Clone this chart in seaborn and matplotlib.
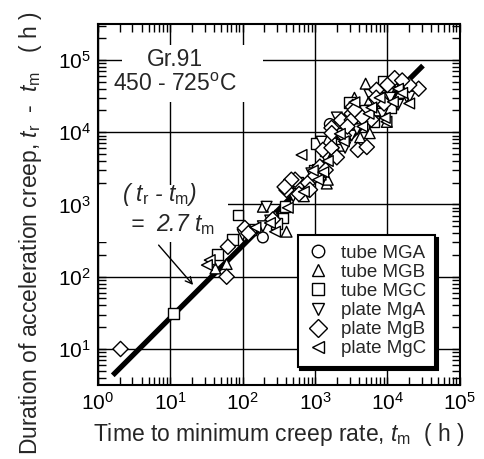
import numpy as np
import pandas as pd
import matplotlib
matplotlib.use("Agg")
import matplotlib.pyplot as plt
import seaborn as sns
from matplotlib.lines import Line2D
from matplotlib.patches import Rectangle
from matplotlib.ticker import LogLocator, NullFormatter

# ---------------- data ----------------
series_names = ["tube MGA", "tube MGB", "tube MGC", "plate MgA", "plate MgB", "plate MgC"]
series_markers = ["o", "^", "s", "v", "D", "<"]

mga_tm = [190, 1600, 1850]
mga_dt = [350, 13000, 9800]

mgb_tm = [60, 42, 190, 404, 1450, 1500, 5000, 5700, 3000, 5700, 9800, 12000, 280, 900,
          2200, 7500, 15000, 3500, 700, 1200, 2700, 8000, 4200]
mgb_dt = [150, 130, 930, 420, 1950, 2200, 47000, 28000, 11300, 9700, 13900, 50000, 700, 2500,
          6500, 20000, 35000, 30000, 1300, 2600, 16000, 42000, 8500]

mgc_tm = [11, 86, 73, 45, 383, 360, 296, 1050, 2300, 2350, 16900, 8700, 994, 5000, 130,
          700, 4000, 11000, 580, 3000, 1400, 6500]
mgc_dt = [31, 716, 330, 205, 933, 650, 550, 7000, 8200, 9700, 48200, 50000, 3000, 20000, 450,
          1700, 16000, 22000, 2000, 26000, 5600, 14000]

mga2_tm = [214, 190, 1230, 18500, 10800, 5660, 890, 2600, 4200, 760, 20400, 100, 240, 1400,
           3200, 8500, 14000, 6500, 500, 2000, 1100, 1800, 3800, 11000]
mga2_dt = [930, 500, 7400, 30800, 36100, 32900, 2700, 6100, 13500, 1860, 31200, 380, 600, 4500,
           9000, 18000, 24000, 26000, 1300, 16000, 3000, 5200, 11000, 30000]

mgb2_tm = [2.05, 60, 62.5, 107, 404, 530, 470, 380, 1165, 1690, 1280, 1690, 1700, 2300, 3200,
           3330, 3220, 3900, 5190, 12600, 7070, 27000, 3550, 120, 260, 800, 2000, 6000, 9000,
           20000, 850, 16000, 600, 1000, 1400, 2500, 4500, 7000, 10000, 2800]
mgb2_dt = [10, 100, 260, 473, 1585, 2200, 2200, 1750, 3340, 11500, 5690, 6100, 9700, 14700, 18000,
           22400, 14800, 5700, 6250, 56000, 38600, 40000, 20400, 400, 620, 2000, 4500, 15000, 25000,
           45000, 1600, 52000, 1400, 2500, 3000, 9000, 16000, 30000, 45000, 12000]

mgc2_tm = [650, 9700, 35, 32, 238, 930, 11900, 7800, 9200, 280, 150, 700, 1500, 2500, 4500,
           14000, 20000, 3500, 420, 1100, 5500, 1300, 2200, 6000, 16000]
mgc2_dt = [4850, 14000, 170, 145, 555, 2950, 26300, 30000, 15800, 420, 480, 1500, 4000, 7500, 12000,
           40000, 25000, 26000, 900, 2200, 18000, 2800, 9500, 22000, 35000]

fit_tm = [1.6, 31000]
fit_coef = 2.7

# ---------------- build frame ----------------
all_tm = [mga_tm, mgb_tm, mgc_tm, mga2_tm, mgb2_tm, mgc2_tm]
all_dt = [mga_dt, mgb_dt, mgc_dt, mga2_dt, mgb2_dt, mgc2_dt]
rows = []
for name, xs, ys in zip(series_names, all_tm, all_dt):
    for a, b in zip(xs, ys):
        rows.append({"series": name, "tm": a, "dt": b})
df = pd.DataFrame(rows)
fit_df = pd.DataFrame({"tm": fit_tm, "dt": [fit_coef * v for v in fit_tm]})

# ---------------- style ----------------
sns.set_style("ticks")
plt.rcParams["font.family"] = ["Liberation Sans", "DejaVu Sans"]
plt.rcParams["mathtext.fontset"] = "custom"
plt.rcParams["mathtext.rm"] = "Liberation Sans"
plt.rcParams["mathtext.it"] = "Liberation Sans:italic"
plt.rcParams["mathtext.bf"] = "Liberation Sans:bold"

fig = plt.figure(figsize=(4.85, 4.59), dpi=100)
ax = fig.add_axes([0.202, 0.161, 0.746, 0.787])
ax.set_xscale("log")
ax.set_yscale("log")
ax.set_xlim(1, 1e5)
ax.set_ylim(10 ** 0.5, 10 ** 5.5)

ax.set_axisbelow(True)
ax.grid(True, which="major", color="black", linewidth=1.0)

# white boxes hiding grid behind annotations
ax.add_patch(Rectangle((0.066, 0.784), 0.39, 0.158, transform=ax.transAxes,
                       facecolor="white", edgecolor="none", zorder=1))
ax.add_patch(Rectangle((0.0, 0.396), 0.359, 0.158, transform=ax.transAxes,
                       facecolor="white", edgecolor="none", zorder=1))

sns.lineplot(data=fit_df, x="tm", y="dt", ax=ax, color="black", linewidth=3.8,
             zorder=2, solid_capstyle="butt")

sns.scatterplot(data=df, x="tm", y="dt", style="series", style_order=series_names,
                markers=dict(zip(series_names, series_markers)), color="white",
                edgecolor="black", linewidth=1.0, s=60, legend=False, ax=ax, zorder=4)

# ticks
ax.xaxis.set_major_locator(LogLocator(base=10, numticks=10))
ax.yaxis.set_major_locator(LogLocator(base=10, numticks=10))
ax.xaxis.set_minor_locator(LogLocator(base=10, subs=np.arange(2, 10), numticks=10))
ax.yaxis.set_minor_locator(LogLocator(base=10, subs=np.arange(2, 10), numticks=10))
ax.xaxis.set_minor_formatter(NullFormatter())
ax.yaxis.set_minor_formatter(NullFormatter())
ax.tick_params(which="both", direction="in", top=True, right=True, colors="black")
ax.tick_params(which="major", length=6, width=1.0, labelsize=15, pad=5)
ax.tick_params(which="minor", length=5.5, width=1.0)
for sp in ax.spines.values():
    sp.set_linewidth(1.5)
    sp.set_color("black")

ax.set_xlabel("Time to minimum creep rate, $t_{\\rm m}$  ( h )", fontsize=16.5, labelpad=5)
ax.set_ylabel("Duration of acceleration creep, $t_{\\rm r}$  -  $t_{\\rm m}$   ( h )",
              fontsize=16.5)
ax.yaxis.set_label_coords(-0.15, 0.42)

# annotations
ax.text(0.213, 0.867, "Gr.91\n450 - 725$^{\\rm o}$C", transform=ax.transAxes,
        ha="center", va="center", fontsize=16.5, linespacing=1.1, zorder=3)
ax.text(0.17, 0.528, "( $t_{\\rm r}$ - $t_{\\rm m}$)", transform=ax.transAxes,
        ha="center", va="center", fontsize=16.5, style="italic", zorder=3)
ax.text(0.205, 0.445, "=  2.7 $t_{\\rm m}$", transform=ax.transAxes,
        ha="center", va="center", fontsize=16.5, style="italic", zorder=3)
ax.annotate("", xy=(21.9, 72), xytext=(6.5, 293),
            arrowprops=dict(arrowstyle="->", color="black", lw=1.0, mutation_scale=12),
            zorder=3)

# legend
handles = [Line2D([], [], marker=m, linestyle="none", markerfacecolor="white",
                  markeredgecolor="black", markersize=9, markeredgewidth=1.0)
           for m in series_markers]
leg = ax.legend(handles, series_names, loc="upper left", bbox_to_anchor=(0.552, 0.4155),
                borderaxespad=0, frameon=True, fancybox=False, edgecolor="black",
                framealpha=1, fontsize=13.5, handletextpad=0.6, labelspacing=0.11,
                borderpad=0.5, handlelength=1.2,
                shadow={"color": "black", "alpha": 1})
leg.get_frame().set_linewidth(1.5)
leg.set_zorder(6)

fig.savefig("out.png", dpi=100)
